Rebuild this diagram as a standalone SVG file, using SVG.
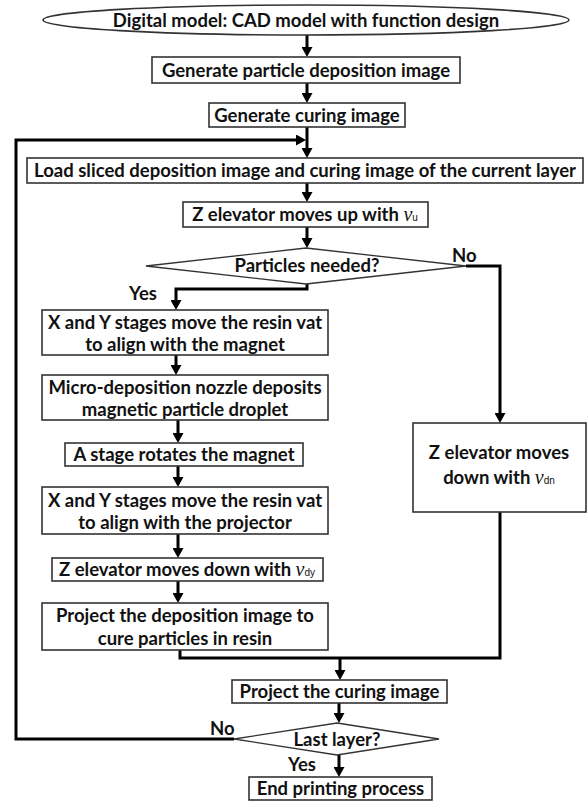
<svg xmlns="http://www.w3.org/2000/svg" width="588" height="802" viewBox="0 0 588 802">
<defs>
<style>
.box{fill:#fff;stroke:#333;stroke-width:1.6}
.dia{fill:#fff;stroke:#333;stroke-width:1.3}
.t{font-family:Lato,"Liberation Sans",sans-serif;font-weight:700;font-size:18.5px;fill:#111;text-anchor:middle}
.lbl{font-family:Lato,"Liberation Sans",sans-serif;font-weight:700;font-size:18.5px;fill:#111}
.v{font-family:"Liberation Serif",serif;font-style:italic;font-weight:400;font-size:20px}
.sub{font-family:"Liberation Sans",sans-serif;font-weight:400;font-size:10px}
.c{fill:none;stroke:#000;stroke-width:3}
.a{marker-end:url(#ah)}
</style>
<marker id="ah" markerUnits="userSpaceOnUse" markerWidth="10" markerHeight="11" viewBox="0 0 10 11" refX="2" refY="5.5" orient="auto">
<path d="M0,0 L10,5.5 L0,11 z" fill="#000"/>
</marker>
</defs>
<g id="connectors">
<path class="c a" d="M307,35 V49"/>
<path class="c a" d="M307,83 V95"/>
<path class="c a" d="M307,127 V150"/>
<path class="c a" d="M234,739 H16 V140 H298"/>
<path class="c a" d="M307,183 V194"/>
<path class="c a" d="M307,227 V240"/>
<path class="c a" d="M307,284 V289 H176 V302"/>
<path class="c a" d="M466,266 H500 V415"/>
<path class="c a" d="M176,355 V367"/>
<path class="c a" d="M178,420 V435"/>
<path class="c a" d="M178,466 V479"/>
<path class="c a" d="M178,534 V550"/>
<path class="c a" d="M178,581 V595"/>
<path class="c" d="M180,650 V658 H500 V512"/>
<path class="c a" d="M340,658 V672"/>
<path class="c a" d="M339,703 V715"/>
<path class="c a" d="M339,755 V769"/>
</g>
<g id="start">
<ellipse class="box" cx="306" cy="20" rx="263" ry="15"/>
<text class="t" x="306" y="26.5">Digital model: CAD model with function design</text>
</g>
<g id="gen-deposition">
<rect class="box" x="152" y="57" width="308" height="26"/>
<text class="t" x="306" y="76.5">Generate particle deposition image</text>
</g>
<g id="gen-curing">
<rect class="box" x="209" y="103" width="196" height="24"/>
<text class="t" x="307" y="121.5">Generate curing image</text>
</g>
<g id="load">
<rect class="box" x="27" y="158" width="556" height="25"/>
<text class="t" x="305" y="177">Load sliced deposition image and curing image of the current layer</text>
</g>
<g id="z-up">
<rect class="box" x="183" y="202" width="245" height="25"/>
<text class="t" x="305" y="221">Z elevator moves up with <tspan class="v">v</tspan><tspan class="sub">u</tspan></text>
</g>
<g id="particles-needed">
<polygon class="dia" points="306,248 466,266 306,284 146,266"/>
<text class="t" x="307" y="272">Particles needed?</text>
</g>
<g id="xy-magnet">
<rect class="box" x="42" y="310" width="286" height="45"/>
<text class="t" x="185" y="329">X and Y stages move the resin vat</text>
<text class="t" x="185" y="351">to align with the magnet</text>
</g>
<g id="nozzle">
<rect class="box" x="42" y="375" width="286" height="45"/>
<text class="t" x="185" y="393.5">Micro-deposition nozzle deposits</text>
<text class="t" x="185" y="416">magnetic particle droplet</text>
</g>
<g id="rotate">
<rect class="box" x="65" y="443" width="238" height="23"/>
<text class="t" x="184" y="461">A stage rotates the magnet</text>
</g>
<g id="xy-projector">
<rect class="box" x="42" y="487" width="286" height="47"/>
<text class="t" x="185" y="507">X and Y stages move the resin vat</text>
<text class="t" x="185" y="529">to align with the projector</text>
</g>
<g id="z-down-dy">
<rect class="box" x="52" y="558" width="271" height="23"/>
<text class="t" x="187" y="576">Z elevator moves down with <tspan class="v">v</tspan><tspan class="sub">dy</tspan></text>
</g>
<g id="project-deposition">
<rect class="box" x="42" y="603" width="286" height="47"/>
<text class="t" x="185" y="622">Project the deposition image to</text>
<text class="t" x="185" y="645">cure particles in resin</text>
</g>
<g id="z-down-dn">
<rect class="box" x="413" y="423" width="173" height="89"/>
<text class="t" x="499" y="459">Z elevator moves</text>
<text class="t" x="499" y="484">down with <tspan class="v">v</tspan><tspan class="sub">dn</tspan></text>
</g>
<g id="project-curing">
<rect class="box" x="232" y="680" width="215" height="23"/>
<text class="t" x="339.5" y="698">Project the curing image</text>
</g>
<g id="last-layer">
<polygon class="dia" points="337,723 439,739 337,755 234,739"/>
<text class="t" x="337" y="746">Last layer?</text>
</g>
<g id="end">
<rect class="box" x="249" y="777" width="183" height="23"/>
<text class="t" x="340.5" y="795">End printing process</text>
</g>
<g id="labels">
<text class="lbl" x="452" y="262">No</text>
<text class="lbl" x="129" y="300">Yes</text>
<text class="lbl" x="210" y="735">No</text>
<text class="lbl" x="288" y="771">Yes</text>
</g>
</svg>
